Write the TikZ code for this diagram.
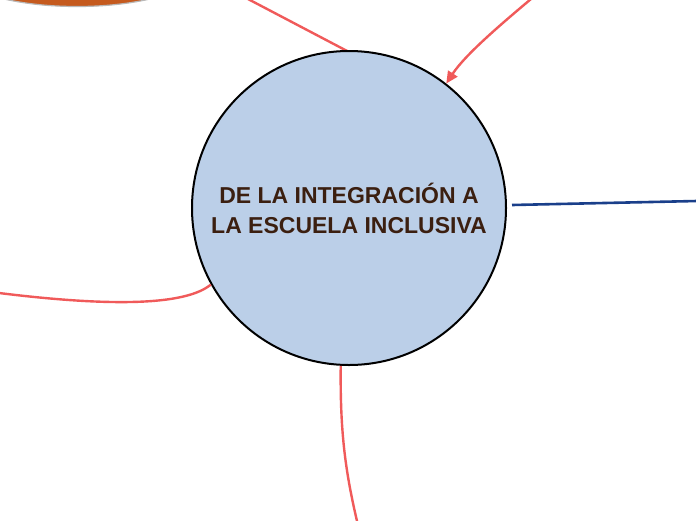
\documentclass[tikz,border=0pt]{standalone}
\usepackage{fontspec}
\setmainfont{Liberation Sans}
\usetikzlibrary{arrows.meta,shapes.geometric}
\definecolor{bubble}{HTML}{BBCFE8}
\definecolor{redline}{HTML}{F05A5A}
\definecolor{blueline}{HTML}{1A3F8A}
\definecolor{orangefill}{HTML}{C55A1E}
\definecolor{textbrown}{HTML}{3B1F10}
\tikzset{
  redconn/.style={draw=redline, line width=2.4pt},
  blueconn/.style={draw=blueline, line width=2.6pt},
  mainbubble/.style={circle, fill=bubble, draw=black, line width=2pt, minimum size=314pt, inner sep=0pt,
    font=\bfseries\fontsize{23}{30}\selectfont, text=textbrown, align=center},
  orangebubble/.style={ellipse, fill=orangefill, draw=gray!55, line width=1.2pt, minimum width=250pt, minimum height=80pt, inner sep=0pt}
}
\begin{document}
\begin{tikzpicture}[x=1pt,y=-1pt]
\useasboundingbox (0,0) rectangle (696,520);
\node[orangebubble] (ell) at (77,-33.5) {};
\coordinate (tl) at (248,-1);
\coordinate (tr) at (531,-1);
\coordinate (rt) at (697,201);
\coordinate (rs) at (512,205);
\coordinate (lf) at (-1,293);
\coordinate (bt) at (357,521);
\draw[redconn] (tl) -- (349,52);
\node[mainbubble] (main) at (349,208) {DE LA INTEGRACIÓN A\\LA ESCUELA INCLUSIVA};
\draw[redconn, -{Triangle[length=12pt,width=11pt]}] (tr) .. controls (500,25) and (465,55) .. (main.52);
\draw[blueconn] (rs) -- (rt);
\draw[redconn] (main.209) .. controls (180,310) and (80,303) .. (lf);
\draw[redconn] (main.267) .. controls (340,430) and (345,470) .. (bt);
\end{tikzpicture}
\end{document}
